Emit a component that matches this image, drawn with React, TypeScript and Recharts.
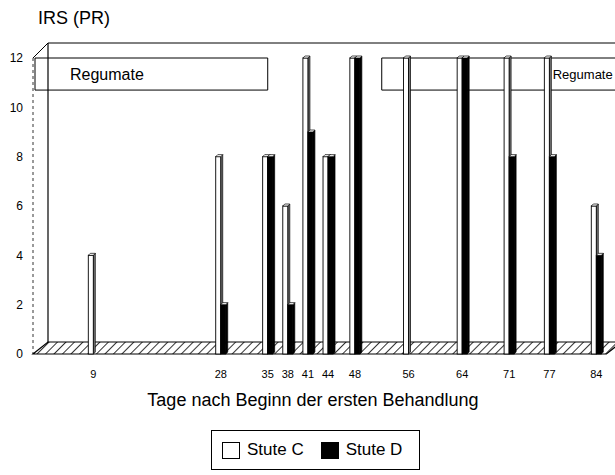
import React from "react";
import { Bar, ComposedChart, ReferenceArea, XAxis, YAxis } from "recharts";

// Days after start of first treatment
const days = [9, 28, 35, 38, 41, 44, 48, 56, 64, 71, 77, 84];
const stuteC = [4, 8, 8, 6, 12, 8, 12, 12, 12, 12, 12, 6];
const stuteD = [0, 2, 8, 2, 9, 8, 12, 0, 12, 8, 8, 4];
const yTicks = [0, 2, 4, 6, 8, 10, 12];
const seriesNames = ["Stute C", "Stute D"];

// Regumate treatment periods (days) and level band
const regumateLeft = [0.3, 35];
const regumateRight = [52, 92];
const regumateBand = [10.7, 12];

const FONT = '"Liberation Sans", Arial, Helvetica, sans-serif';
const DX = 15; // 3D depth
const DY = 15;

const data = days.map((day, i) => ({ day, c: stuteC[i], d: stuteD[i] }));

const Bar3D = (props: any) => {
  const { x, y, width, height, fill } = props;
  if (!height || height <= 0) return null;
  const d = 2;
  const dark = fill === "#000";
  return (
    <g>
      <polygon
        points={`${x + width},${y} ${x + width + d},${y - d} ${x + width + d},${y + height - d} ${x + width},${y + height}`}
        fill={dark ? "#000" : "#777"}
        stroke="#000"
        strokeWidth={0.7}
      />
      <rect x={x} y={y} width={width} height={height} fill={fill} stroke="#000" strokeWidth={0.9} />
      <polygon
        points={`${x},${y} ${x + d},${y - d} ${x + width + d},${y - d} ${x + width},${y}`}
        fill="#fff"
        stroke="#000"
        strokeWidth={0.7}
      />
    </g>
  );
};

// hatched floor of the 3D frame
const Floor = (props: any) => {
  const { x, y, width, height } = props;
  const b = y + height;
  return (
    <polygon
      points={`${x},${b} ${x + width},${b} ${x + width + DX},${b - 12} ${x + DX},${b - 12}`}
      fill="url(#hatch)"
      stroke="#000"
      strokeWidth={1.2}
    />
  );
};

// back wall / left edges of the 3D frame
const Frame = (props: any) => {
  const { x, y, width, height } = props;
  const b = y + height;
  return (
    <g stroke="#000" fill="none">
      <line x1={x + DX} y1={y - DY} x2={x + width} y2={y - DY} strokeWidth={1} />
      <line x1={x + DX} y1={y - DY} x2={x + DX} y2={b - 12} strokeWidth={1.2} />
      <line x1={x} y1={y} x2={x + DX} y2={y - DY} strokeWidth={1} />
      <line x1={x} y1={y} x2={x} y2={b} strokeWidth={0.8} strokeDasharray="3 3" />
    </g>
  );
};

export default function App() {
  return (
    <div
      style={{
        position: "absolute",
        left: 0,
        top: 0,
        width: 615,
        height: 475,
        overflow: "hidden",
        background: "#fff",
        fontFamily: FONT,
      }}
    >
      <div style={{ position: "absolute", left: 38, top: 8, fontSize: 18, color: "#000" }}>IRS (PR)</div>
      <ComposedChart
        width={650}
        height={475}
        data={data}
        margin={{ top: 58, right: 0, bottom: 91, left: 0 }}
        barGap={0}
      >
        <defs>
          <pattern id="hatch" patternUnits="userSpaceOnUse" width={6} height={6} patternTransform="rotate(45)">
            <rect width={6} height={6} fill="#fff" />
            <line x1={0} y1={0} x2={0} y2={6} stroke="#000" strokeWidth={1.6} />
          </pattern>
        </defs>
        <XAxis
          type="number"
          dataKey="day"
          domain={[0, 92]}
          ticks={days}
          interval={0}
          allowDataOverflow
          axisLine={false}
          tickLine={false}
          tickMargin={10}
          height={30}
          tick={{ fontSize: 11, fill: "#000", fontFamily: FONT }}
        />
        <YAxis
          domain={[0, 12]}
          ticks={yTicks}
          interval={0}
          width={33}
          axisLine={false}
          tickLine={false}
          tickSize={8}
          tickMargin={2}
          tick={{ fontSize: 12, fill: "#000", fontFamily: FONT }}
        />
        <ReferenceArea x1={0} x2={92} y1={0} y2={12} shape={<Frame />} />
        <ReferenceArea x1={0} x2={85.5} y1={0} y2={12} shape={<Floor />} />
        <ReferenceArea
          x1={regumateLeft[0]}
          x2={regumateLeft[1]}
          y1={regumateBand[0]}
          y2={regumateBand[1]}
          fill="none"
          fillOpacity={0}
          stroke="#000"
          strokeWidth={1}
          label={{ value: "Regumate", position: "insideLeft", offset: 35, fontSize: 16, fill: "#000", fontFamily: FONT }}
        />
        <ReferenceArea
          x1={regumateRight[0]}
          x2={regumateRight[1]}
          y1={regumateBand[0]}
          y2={regumateBand[1]}
          fill="none"
          fillOpacity={0}
          stroke="#000"
          strokeWidth={1}
          label={{ value: "Regumate", position: "insideLeft", offset: 171, fontSize: 13, fill: "#000", fontFamily: FONT }}
        />
        <Bar dataKey="c" name={seriesNames[0]} fill="#fff" barSize={5} shape={<Bar3D />} isAnimationActive={false} />
        <Bar dataKey="d" name={seriesNames[1]} fill="#000" barSize={5} shape={<Bar3D />} isAnimationActive={false} />
      </ComposedChart>
      <div
        style={{
          position: "absolute",
          left: 0,
          top: 390,
          width: 626,
          textAlign: "center",
          fontSize: 18,
          color: "#000",
        }}
      >
        Tage nach Beginn der ersten Behandlung
      </div>
      <div
        style={{
          position: "absolute",
          left: 211,
          top: 430,
          width: 209,
          height: 40,
          border: "1px solid #000",
          display: "flex",
          alignItems: "center",
          paddingLeft: 10,
          boxSizing: "border-box",
          fontSize: 17,
          color: "#000",
        }}
      >
        <span style={{ width: 16, height: 15, border: "1px solid #000", background: "#fff", display: "inline-block" }} />
        <span style={{ marginLeft: 7, marginRight: 17 }}>{seriesNames[0]}</span>
        <span style={{ width: 16, height: 15, border: "1px solid #000", background: "#000", display: "inline-block" }} />
        <span style={{ marginLeft: 7 }}>{seriesNames[1]}</span>
      </div>
    </div>
  );
}
